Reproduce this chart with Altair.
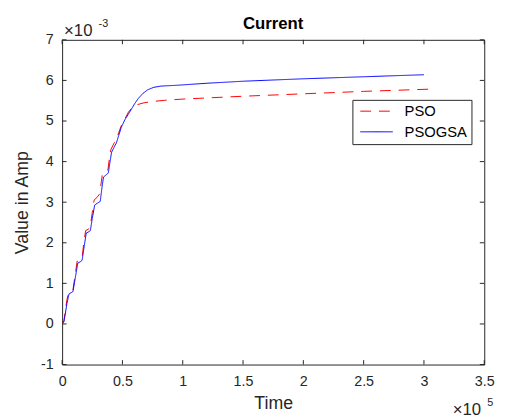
import altair as alt
import pandas as pd

# ---- data (time in units of 1e5, value in units of 1e-3) ----
pso_time = [0, 0.015, 0.04, 0.055, 0.075, 0.09, 0.11, 0.125, 0.15, 0.165, 0.18, 0.195, 0.215,
            0.232, 0.25, 0.265, 0.29, 0.31, 0.325, 0.335, 0.36, 0.38, 0.395, 0.405, 0.43, 0.45,
            0.47, 0.49, 0.52, 0.55, 0.58, 0.62, 0.68, 0.75, 0.85, 1.0, 1.5, 2.0, 2.5, 3.1]
pso_value = [0, 0.08, 0.6, 0.78, 0.81, 0.84, 1.25, 1.55, 1.58, 1.62, 2.0, 2.3, 2.33,
             2.37, 2.75, 3.05, 3.12, 3.2, 3.5, 3.72, 3.75, 3.8, 4.15, 4.3, 4.45, 4.55,
             4.72, 4.88, 5.05, 5.22, 5.33, 5.4, 5.45, 5.48, 5.51, 5.54, 5.61, 5.67, 5.73, 5.79]

psogsa_time = [0, 0.015, 0.04, 0.057, 0.075, 0.09, 0.11, 0.13, 0.15, 0.166, 0.185, 0.2, 0.215,
               0.234, 0.25, 0.27, 0.29, 0.316, 0.33, 0.343, 0.36, 0.383, 0.4, 0.41, 0.43, 0.45,
               0.47, 0.49, 0.52, 0.56, 0.6, 0.63, 0.67, 0.71, 0.76, 0.82, 0.95, 1.2, 1.5, 2.0,
               2.5, 3.0]
psogsa_value = [0, 0.05, 0.5, 0.74, 0.77, 0.8, 1.15, 1.5, 1.53, 1.57, 1.95, 2.24, 2.26,
                2.3, 2.6, 2.93, 2.97, 3.02, 3.35, 3.62, 3.66, 3.72, 4.05, 4.23, 4.35, 4.46,
                4.65, 4.84, 5.03, 5.22, 5.42, 5.55, 5.68, 5.77, 5.83, 5.86, 5.88, 5.93, 5.98,
                6.04, 6.09, 6.14]

series_names = ["PSO", "PSOGSA"]
x_ticks = [0, 0.5, 1, 1.5, 2, 2.5, 3, 3.5]
y_ticks = [-1, 0, 1, 2, 3, 4, 5, 6, 7]

# ---- styling ----
FONT = "Liberation Sans"
TXT = "#262626"
W, H = 429, 330
X0, X1 = 0, 3.5
Y0, Y1 = -1, 7
TICK_PX = 4.5
dx = TICK_PX * (X1 - X0) / W
dy = TICK_PX * (Y1 - Y0) / H

df = pd.concat([
    pd.DataFrame({"t": pso_time, "v": pso_value, "s": "PSO"}),
    pd.DataFrame({"t": psogsa_time, "v": psogsa_value, "s": "PSOGSA"}),
])

xs = alt.Scale(domain=[X0, X1], nice=False, zero=False)
ys = alt.Scale(domain=[Y0, Y1], nice=False, zero=False)
xaxis = alt.Axis(values=x_ticks, title="Time", labelExpr="'' + datum.value", labelPadding=10,
                 labelFlush=False, titleY=45, titleBaseline="alphabetic",
                 grid=False, ticks=False, domain=False)
yaxis = alt.Axis(values=y_ticks, title="Value in Amp", labelExpr="'' + datum.value",
                 labelPadding=9, labelFlush=False,
                 titleX=-35, titleBaseline="alphabetic", grid=False, ticks=False, domain=False)


def xenc(f):
    return alt.X(f, type="quantitative", scale=xs, axis=xaxis)


def yenc(f):
    return alt.Y(f, type="quantitative", scale=ys, axis=yaxis)


leg = alt.Legend(title=None, orient="none", legendX=295, legendY=61,
                 symbolType="M-3,0H3", symbolSize=121, symbolStrokeWidth=1,
                 labelFontSize=15, labelFont=FONT, labelColor="#000000",
                 strokeColor="#262626", fillColor="white", padding=4,
                 rowPadding=5, labelOffset=21, symbolOffset=13)

lines = alt.Chart(df).mark_line(strokeWidth=1, clip=True).encode(
    x=xenc("t"),
    y=yenc("v"),
    color=alt.Color("s:N", scale=alt.Scale(domain=series_names, range=["#ff0000", "#0000ff"]),
                    legend=leg),
    strokeDash=alt.StrokeDash("s:N", scale=alt.Scale(domain=series_names, range=[[11, 8], [1, 0]]),
                              legend=leg),
)

xt = pd.DataFrame({"t": x_ticks})
yt = pd.DataFrame({"v": y_ticks})
tick_color = TXT

bottom = alt.Chart(xt).transform_calculate(a=str(Y0), b=f"{Y0 + dy}").mark_rule(
    color=tick_color, strokeWidth=1).encode(x=xenc("t"), y=yenc("a"), y2="b:Q")
top = alt.Chart(xt).transform_calculate(a=str(Y1), b=f"{Y1 - dy}").mark_rule(
    color=tick_color, strokeWidth=1).encode(x=xenc("t"), y=yenc("a"), y2="b:Q")
left = alt.Chart(yt).transform_calculate(a=str(X0), b=f"{X0 + dx}").mark_rule(
    color=tick_color, strokeWidth=1).encode(y=yenc("v"), x=xenc("a"), x2="b:Q")
right = alt.Chart(yt).transform_calculate(a=str(X1), b=f"{X1 - dx}").mark_rule(
    color=tick_color, strokeWidth=1).encode(y=yenc("v"), x=xenc("a"), x2="b:Q")

ann = pd.DataFrame({"k": [0]})


def label(text, px, py, size, weight="normal", align="left", color=TXT):
    return alt.Chart(ann).mark_text(text=text, font=FONT, fontSize=size, color=color,
                                    fontWeight=weight, align=align,
                                    baseline="alphabetic").encode(
        x=alt.value(px), y=alt.value(py))


title = label("Current", W / 2, -11, 17, weight="bold", align="center", color="#000000")
exp_y1 = label("×10", 2, -4, 17)
exp_y2 = label("-3", 37, -13, 11)
exp_x1 = label("×10", 397, H + 51, 17)
exp_x2 = label("5", 432, H + 42, 11)

chart = alt.layer(bottom, top, left, right, lines, title, exp_y1, exp_y2, exp_x1, exp_x2).properties(
    width=W, height=H,
    autosize=alt.AutoSizeParams(type="none"),
    padding={"left": 55, "top": 29, "right": 16, "bottom": 52},
    background="white",
).configure_view(stroke=TXT, strokeWidth=1).configure_axis(
    domain=False, ticks=False, grid=False, labelFont=FONT, labelFontSize=14.5,
    labelColor=TXT, titleFont=FONT, titleFontSize=18, titleFontWeight="normal", titleColor=TXT,
)

chart.save("out.html", embed_options={"renderer": "svg", "actions": False})
